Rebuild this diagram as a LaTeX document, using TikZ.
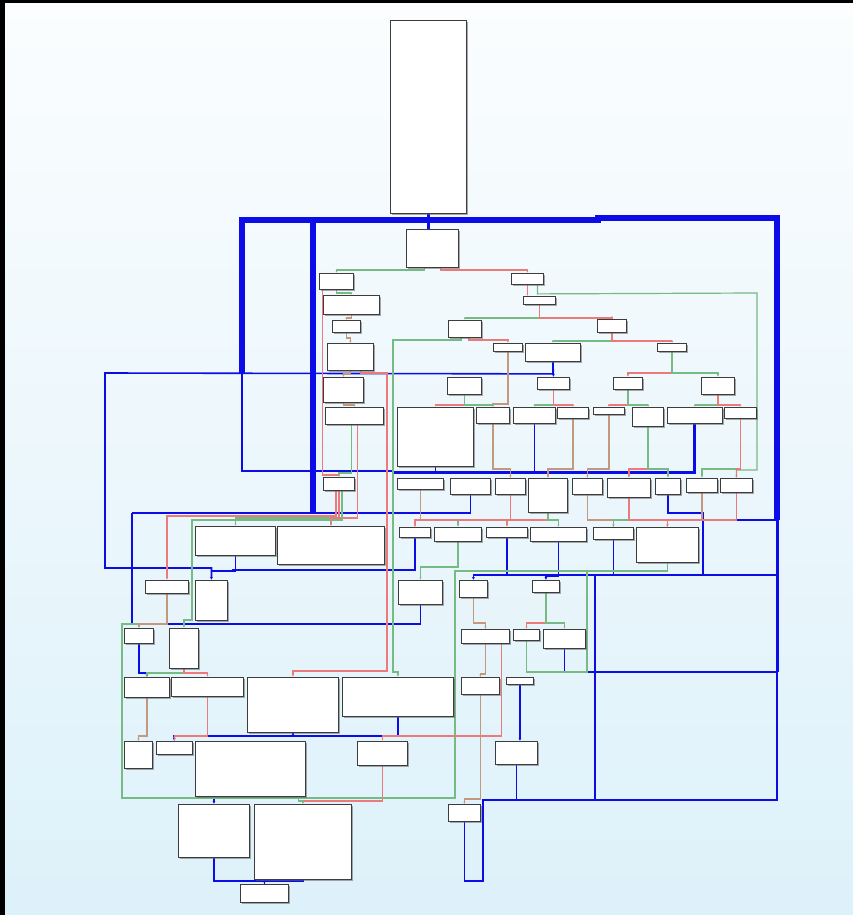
\documentclass[tikz,border=0pt]{standalone}
\usepackage{tikz}
\usetikzlibrary{arrows.meta, shadows, backgrounds}
\definecolor{cfgblue}{RGB}{12,12,232}
\definecolor{cfggreen}{RGB}{118,186,132}
\definecolor{cfgred}{RGB}{236,122,122}
\definecolor{cfgtan}{RGB}{196,152,126}
\definecolor{bgtop}{RGB}{251,253,254}
\definecolor{bgbottom}{RGB}{221,241,250}
\definecolor{boxline}{RGB}{60,60,60}
\tikzset{
  cfgblock/.style={
    rectangle, draw=boxline, line width=0.9pt, fill=white,
    inner sep=0pt, anchor=north west,
    drop shadow={shadow xshift=1.6pt, shadow yshift=-1.6pt, fill=black!60, opacity=0.55}
  },
  yesedge/.style={draw=cfggreen, line width=1.2pt, -{Latex[length=2.5pt, width=2pt]}},
  noedge/.style={draw=cfgred, line width=1.2pt, -{Latex[length=2.5pt, width=2pt]}},
  bothedge/.style={draw=cfgtan, line width=1.8pt, -{Latex[length=2.5pt, width=2.5pt]}},
  jmpedge/.style={draw=cfgblue, line width=1.6pt},
  jmpwide/.style={draw=cfgblue, line width=3pt},
  jmpheavy/.style={draw=cfgblue, line width=6pt}
}
\begin{document}
\begin{tikzpicture}[x={(1pt,0)}, y={(0,-1pt)}]

  \useasboundingbox (0,0) rectangle (853,915);
  \begin{scope}[on background layer]
    \fill[bgbottom] (0,0) rectangle (853,915);
    \shade[top color=bgtop, bottom color=bgbottom] (5,3) rectangle (853,915);
    \fill[black] (0,0) rectangle (5,915);
    \fill[black] (0,0) rectangle (853,3);
  \end{scope}

  % Entry and dispatcher head
  \node[cfgblock, minimum width=76pt, minimum height=193pt] (b0) at (390,20) {};
  \node[cfgblock, minimum width=52pt, minimum height=38pt] (b1) at (406,229) {};

  % Left chain
  \node[cfgblock, minimum width=34pt, minimum height=16pt] (b2) at (319,273) {};
  \node[cfgblock, minimum width=56pt, minimum height=19pt] (b3) at (323,295) {};
  \node[cfgblock, minimum width=28pt, minimum height=12pt] (b4) at (332,320) {};
  \node[cfgblock, minimum width=46pt, minimum height=27pt] (b5) at (327,343) {};
  \node[cfgblock, minimum width=40pt, minimum height=25pt] (b6) at (323,377) {};
  \node[cfgblock, minimum width=58pt, minimum height=17pt] (b7) at (325,407) {};

  % Decision tree
  \node[cfgblock, minimum width=32pt, minimum height=11pt] (b12) at (511,273) {};
  \node[cfgblock, minimum width=32pt, minimum height=8pt] (b13) at (523,296) {};
  \node[cfgblock, minimum width=33pt, minimum height=17pt] (b8) at (448,320) {};
  \node[cfgblock, minimum width=29pt, minimum height=13pt] (b14) at (597,319) {};
  \node[cfgblock, minimum width=29pt, minimum height=8pt] (b26) at (493,343) {};
  \node[cfgblock, minimum width=55pt, minimum height=18pt] (b15) at (525,343) {};
  \node[cfgblock, minimum width=29pt, minimum height=8pt] (b16) at (657,343) {};
  \node[cfgblock, minimum width=34pt, minimum height=17pt] (b9) at (447,377) {};
  \node[cfgblock, minimum width=32pt, minimum height=12pt] (b17) at (537,377) {};
  \node[cfgblock, minimum width=29pt, minimum height=12pt] (b18) at (613,377) {};
  \node[cfgblock, minimum width=33pt, minimum height=17pt] (b19) at (701,377) {};

  % Leaf row
  \node[cfgblock, minimum width=76pt, minimum height=59pt] (b10) at (397,407) {};
  \node[cfgblock, minimum width=33pt, minimum height=16pt] (b11) at (476,407) {};
  \node[cfgblock, minimum width=42pt, minimum height=16pt] (b20) at (513,407) {};
  \node[cfgblock, minimum width=31pt, minimum height=11pt] (b21) at (557,407) {};
  \node[cfgblock, minimum width=31pt, minimum height=7pt] (b22) at (593,407) {};
  \node[cfgblock, minimum width=31pt, minimum height=19pt] (b23) at (632,407) {};
  \node[cfgblock, minimum width=55pt, minimum height=16pt] (b24) at (667,407) {};
  \node[cfgblock, minimum width=32pt, minimum height=11pt] (b25) at (724,407) {};

  % Case row
  \node[cfgblock, minimum width=46pt, minimum height=11pt] (c1) at (397,478) {};
  \node[cfgblock, minimum width=40pt, minimum height=16pt] (c2) at (450,478) {};
  \node[cfgblock, minimum width=30pt, minimum height=16pt] (c3) at (495,478) {};
  \node[cfgblock, minimum width=39pt, minimum height=34pt] (c4) at (528,478) {};
  \node[cfgblock, minimum width=30pt, minimum height=16pt] (c5) at (572,478) {};
  \node[cfgblock, minimum width=43pt, minimum height=19pt] (c6) at (607,478) {};
  \node[cfgblock, minimum width=25pt, minimum height=16pt] (c7) at (655,478) {};
  \node[cfgblock, minimum width=31pt, minimum height=14pt] (c8) at (686,478) {};
  \node[cfgblock, minimum width=32pt, minimum height=14pt] (c9) at (720,478) {};

  \node[cfgblock, minimum width=31pt, minimum height=10pt] (d1) at (399,527) {};
  \node[cfgblock, minimum width=47pt, minimum height=14pt] (d2) at (434,527) {};
  \node[cfgblock, minimum width=41pt, minimum height=10pt] (d3) at (486,527) {};
  \node[cfgblock, minimum width=56pt, minimum height=14pt] (d4) at (530,527) {};
  \node[cfgblock, minimum width=40pt, minimum height=12pt] (d5) at (593,527) {};
  \node[cfgblock, minimum width=62pt, minimum height=35pt] (d6) at (636,527) {};

  % Lower left
  \node[cfgblock, minimum width=31pt, minimum height=13pt] (e2) at (323,477) {};
  \node[cfgblock, minimum width=80pt, minimum height=29pt] (e3) at (195,526) {};
  \node[cfgblock, minimum width=107pt, minimum height=38pt] (e4) at (277,526) {};
  \node[cfgblock, minimum width=43pt, minimum height=13pt] (e5) at (145,580) {};
  \node[cfgblock, minimum width=32pt, minimum height=40pt] (e6) at (195,580) {};
  \node[cfgblock, minimum width=29pt, minimum height=15pt] (e7) at (124,628) {};
  \node[cfgblock, minimum width=29pt, minimum height=40pt] (e8) at (169,628) {};
  \node[cfgblock, minimum width=45pt, minimum height=20pt] (f1) at (124,677) {};
  \node[cfgblock, minimum width=72pt, minimum height=19pt] (f2) at (171,677) {};
  \node[cfgblock, minimum width=91pt, minimum height=55pt] (f3) at (247,677) {};
  \node[cfgblock, minimum width=111pt, minimum height=39pt] (f4) at (342,677) {};
  \node[cfgblock, minimum width=28pt, minimum height=27pt] (g1) at (124,741) {};
  \node[cfgblock, minimum width=36pt, minimum height=13pt] (g2) at (156,741) {};
  \node[cfgblock, minimum width=110pt, minimum height=55pt] (g3) at (195,741) {};
  \node[cfgblock, minimum width=50pt, minimum height=24pt] (g4) at (357,741) {};
  \node[cfgblock, minimum width=71pt, minimum height=53pt] (h1) at (178,804) {};
  \node[cfgblock, minimum width=97pt, minimum height=75pt] (h2) at (254,804) {};
  \node[cfgblock, minimum width=48pt, minimum height=18pt] (h3) at (240,884) {};

  % Lower middle
  \node[cfgblock, minimum width=44pt, minimum height=24pt] (i1) at (398,580) {};
  \node[cfgblock, minimum width=28pt, minimum height=17pt] (i2) at (459,580) {};
  \node[cfgblock, minimum width=27pt, minimum height=12pt] (i3) at (532,580) {};
  \node[cfgblock, minimum width=48pt, minimum height=14pt] (i4) at (461,629) {};
  \node[cfgblock, minimum width=26pt, minimum height=11pt] (i5) at (513,629) {};
  \node[cfgblock, minimum width=42pt, minimum height=19pt] (i6) at (543,629) {};
  \node[cfgblock, minimum width=38pt, minimum height=17pt] (f5) at (461,677) {};
  \node[cfgblock, minimum width=27pt, minimum height=7pt] (j1) at (506,677) {};
  \node[cfgblock, minimum width=42pt, minimum height=23pt] (j2) at (495,741) {};
  \node[cfgblock, minimum width=32pt, minimum height=17pt] (h4) at (448,804) {};

  \begin{scope}[on background layer]
    % Back edges to the dispatcher
    \draw[jmpheavy] (777,520) -- (777,218) -- (598,218) -- (598,220) -- (242,220) -- (242,373);
    \draw[jmpheavy] (313,220) -- (313,513);
    \draw[jmpwide] (b0.south) -- (b0.south |- b1.north);
    \draw[jmpedge] (242,373) -- (242,471) -- (392,471);
    \draw[jmpwide] (b24.south) |- (392,472);
    \draw[jmpedge] (b20.south) -- ++(0,49);
    \draw[jmpedge] (b10.south) -- ++(0,6);
    \draw[jmpedge] (c2.south) |- (132,513);
    \draw[jmpedge] (i1.south) |- (132,624) -- (132,513);
    \draw[jmpedge] (c7.south) |- (703,513) -- (703,520) -- (777,520);
    \draw[jmpedge] (703,520) -- (703,575);
    \draw[jmpwide] (777,520) -- (777,672);
    \draw[jmpedge] (h4.south) -- ++(0,59) -| (483,800) -| (777,672);
    \draw[jmpedge] (i6.south) |- (777,672);
    \draw[jmpedge, -{Latex[length=3pt, width=3pt]}] (j2.south) |- (595,800) -- (595,575) -| (i2.north);
    \draw[jmpedge] (777,575) -- (595,575);
    \draw[jmpedge] (d3.south) -- ++(0,38);
    \draw[jmpedge] (d5.south) -- ++(0,36);
    \draw[jmpedge, -{Latex[length=3pt, width=3pt]}] (d4.south) -- ++(0,34) -| (i3.north);
    \draw[jmpedge, -{Latex[length=3pt, width=3pt]}] (b15.south) -- ++(0,12) -- (105,373) -- (105,568) -| (e6.north);
    \draw[jmpedge, -{Latex[length=3pt, width=3pt]}] (b15.south) -- (b17.north);
    \draw[jmpedge] (e3.south) |- (211,571);
    \draw[jmpedge] (d1.south) |- (232,570);
    \draw[jmpedge, -{Latex[length=3pt, width=3pt]}] (e7.south) -- ++(0,29) -| (f1.north);
    \draw[jmpedge, -{Latex[length=3pt, width=3pt]}] (f4.south) |- (174,736) -- (g2.north);
    \draw[jmpedge] (f3.south) -- ++(0,4);
    \draw[jmpedge, -{Latex[length=3pt, width=3pt]}] (g3.south -| h1.north) -- (h1.north);
    \draw[jmpedge, -{Latex[length=3pt, width=3pt]}] (h1.south) -- ++(0,23) -| (h3.north);
    \draw[jmpedge] (h2.south) -- ++(0,1) -| (h3.north);
    \draw[jmpedge, -{Latex[length=3pt, width=3pt]}] (j1.south) -- (j1.south |- j2.north);

    % Conditional edges, upper part
    \draw[yesedge] ([xshift=-8pt]b1.south) -- ++(0,2) -| (b2.north);
    \draw[noedge] ([xshift=8pt]b1.south) -- ++(0,2) -| (b12.north);
    \draw[yesedge] (b2.south) -- ++(0,3) -| (b3.north);
    \draw[noedge] ([xshift=-14pt]b2.south) -- ++(0,185) -| (e2.north);
    \draw[bothedge] (b3.south) -- ++(0,3) -| (b4.north);
    \draw[bothedge] (b4.south) -- ++(0,5) -| (b5.north);
    \draw[bothedge] (b5.south) -- ++(0,3) -| (b6.north);
    \draw[noedge] ([xshift=10pt]b5.south) -- ++(0,2) -| (387,671) -| (f3.north);
    \draw[bothedge] (b6.south) -- ++(0,2) -| (b7.north);
    \draw[yesedge] ([xshift=-3pt]b7.south) -- ++(0,48) -| (e2.north);
    \draw[noedge] ([xshift=3pt]b7.south) -- ++(0,93) -| (e4.north);
    \draw[noedge] (b12.south) -- (b12.south |- b13.north);
    \draw[yesedge] ([xshift=10pt]b12.south) -- ++(0,9) -- (757,293) -- (757,470) -| (c9.north);
    \draw[yesedge] (b13.south) -- ++(0,13) -| (b8.north);
    \draw[noedge] (b13.south) -- ++(0,13) -| (b14.north);
    \draw[yesedge] ([xshift=-4pt]b8.south) -- ++(0,2) -| (393,672) -| (f4.north);
    \draw[noedge] ([xshift=4pt]b8.south) -- ++(0,2) -| (b26.north);
    \draw[yesedge] (b14.south) -- ++(0,8) -| (b15.north);
    \draw[noedge] (b14.south) -- ++(0,8) -| (b16.north);
    \draw[noedge] (b16.south) -- ++(0,21) -| (b18.north);
    \draw[yesedge] (b16.south) -- ++(0,21) -| (b19.north);
    \draw[bothedge] (b26.south) -- ++(0,52) -| (b11.north);
    \draw[noedge] (b9.south) -- ++(0,10) -| (b10.north);
    \draw[yesedge] (b9.south) -- ++(0,10) -| (b11.north);
    \draw[yesedge] (b17.south) -- ++(0,15) -| (b20.north);
    \draw[noedge] (b17.south) -- ++(0,15) -| (b21.north);
    \draw[noedge] (b18.south) -- ++(0,15) -| (b22.north);
    \draw[yesedge] (b18.south) -- ++(0,15) -| (b23.north);
    \draw[yesedge] (b19.south) -- ++(0,10) -| (b24.north);
    \draw[noedge] (b19.south) -- ++(0,10) -| (b25.north);

    % Leaf row into case rows
    \draw[bothedge] (b11.south) -- ++(0,45) -| (c3.north);
    \draw[bothedge] (b21.south) -- ++(0,50) -| (c4.north);
    \draw[bothedge] (b22.south) -- ++(0,54) -| (c5.north);
    \draw[noedge] (b23.south) -- ++(0,42) -| (c6.north);
    \draw[yesedge] (b23.south) -- ++(0,42) -| (c7.north);
    \draw[yesedge] (b25.south) -- ++(0,50) -| (c8.north);
    \draw[noedge] (b25.south) -- ++(0,50) -| (c9.north);
    \draw[bothedge] (c1.south) -- ++(0,30) -| (d1.north);
    \draw[yesedge] (c3.south) -- ++(0,25) -| (d2.north);
    \draw[noedge] (c3.south) -- ++(0,25) -| (d3.north);
    \draw[noedge, line width=2pt] (c4.south) -- ++(0,7) -| (d1.north);
    \draw[yesedge] (c4.south) -- ++(0,7) -| (d4.north);
    \draw[bothedge] (c5.south) -- ++(0,25) -| (d5.north);
    \draw[yesedge] (c6.south) -- ++(0,22) -| (d5.north);
    \draw[noedge] (c6.south) -- ++(0,22) -| (d6.north);
    \draw[bothedge] (c8.south) -- ++(0,27) -| (d6.north);
    \draw[noedge] (c9.south) -- ++(0,27) -| (d6.north);

    % Lower middle
    \draw[yesedge] (d2.south) -- ++(0,25) -| (i1.north);
    \draw[yesedge] (d6.south) -- ++(0,8) -| (455,798) -| (122,624) -| (e7.north);
    \draw[yesedge, -] (i5.south) |- (587,672) -- (587,570);
    \draw[bothedge] (i2.south) -- ++(0,25) -| (i4.north);
    \draw[noedge] (i3.south) -- ++(0,30) -| (i5.north);
    \draw[yesedge] (i3.south) -- ++(0,30) -| (i6.north);
    \draw[bothedge] (i4.south) -- ++(0,30) -| (f5.north);
    \draw[noedge] ([xshift=16pt]i4.south) -- ++(0,92) -| (g4.north);
    \draw[bothedge] (f5.south) -- ++(0,104) -| (h4.north);

    % Lower left
    \draw[yesedge] (e2.south) -- ++(0,27) -| (e3.north);
    \draw[noedge] (e2.south) -- ++(0,27) -| (e4.north);
    \draw[noedge] ([xshift=-3pt]e2.south) -- ++(0,25) -| (e5.north);
    \draw[yesedge] ([xshift=3pt]e2.south) -- ++(0,29) -| (192,620) -| (e8.north);
    \draw[bothedge] (e5.south) -- ++(0,30) -| (e7.north);
    \draw[yesedge] (e8.south) -- ++(0,4) -| (f1.north);
    \draw[noedge] (e8.south) -- ++(0,4) -| (f2.north);
    \draw[bothedge] (f1.south) -- ++(0,38) -| (g1.north);
    \draw[noedge] (f2.south) -- ++(0,39) -| (g2.north);
    \draw[noedge] (g4.south) -- ++(0,35) -| (h2.north);
    \draw[yesedge] ([xshift=48pt]g3.south) -- ++(0,4) -| (h2.north);
  \end{scope}

\end{tikzpicture}
\end{document}
